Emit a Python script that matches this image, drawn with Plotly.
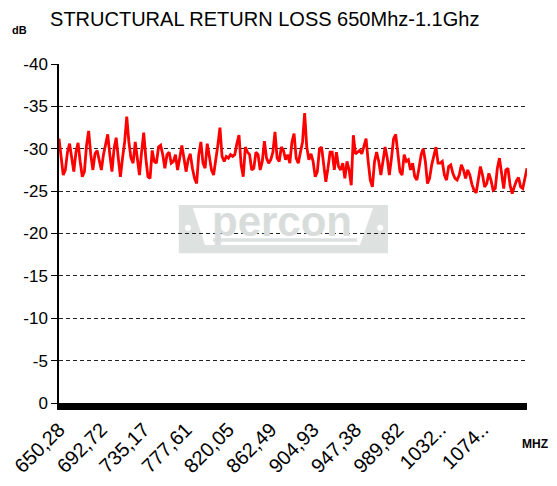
import numpy as np
import plotly.graph_objects as go

# sweep settings (uniform frequency sweep)
FREQ_START = 650.28
FREQ_STEP = 2.1222

# structural return loss in dB
return_loss = [
    -31.2, -29.3, -26.9, -27.5, -29.6, -30.6, -28.7, -27.3, -29.6, -30.7,
    -28.5, -26.7, -27.3, -30.4, -32.1, -29.3, -27.5, -29.4, -29.8, -28.7,
    -27.5, -29.3, -30.4, -31.7, -29.3, -27.3, -30.0, -31.3, -28.9, -26.7,
    -28.9, -30.8, -33.8, -30.8, -28.9, -28.3, -30.8, -28.7, -26.9, -29.6,
    -31.9, -28.9, -26.7, -26.5,
    -29.8, -28.5, -28.3, -30.2, -30.4, -29.3, -27.7, -29.3, -29.6, -28.3,
    -28.5, -29.3, -27.5, -28.9, -30.4, -28.9, -27.3, -28.7, -29.4, -27.7,
    -26.5, -25.9, -29.3, -30.8, -28.3, -27.7, -30.6, -29.1, -27.5, -26.9,
    -28.5, -30.4, -32.5, -29.1, -28.5, -29.1, -28.9, -29.3, -29.1, -29.3,
    -30.6, -31.6, -28.1, -26.7,
    -30.2, -29.6, -29.3, -27.5, -27.7, -29.6, -29.3, -27.5, -28.5, -30.9,
    -28.9, -28.3, -28.7, -29.6, -32.0, -28.9, -28.5, -30.2, -29.8, -28.7,
    -29.3, -28.3, -30.8, -31.8, -28.9, -28.3, -29.6, -30.8, -34.2, -30.2,
    -28.7, -29.4, -28.5, -26.7, -27.3, -30.0, -30.2, -27.9, -26.1, -27.7,
    -29.6, -29.6, -27.5,
    -29.6, -27.9, -27.5, -28.3, -26.5, -28.5, -27.5, -25.7, -31.6, -29.4,
    -29.6, -29.8, -29.4, -30.4, -31.2, -28.5, -26.3, -25.5, -28.5, -29.6,
    -28.5, -26.9, -28.9, -30.2, -28.9, -26.9, -28.9, -31.2, -31.7, -29.1,
    -27.3, -26.9, -29.3, -28.5, -28.7, -27.5, -28.3, -26.7, -26.3, -27.7,
    -29.3, -30.0, -28.5, -25.9,
    -26.5, -28.1, -29.1, -30.2, -28.3, -28.3, -28.5, -26.9, -26.3, -27.9,
    -28.1, -27.1, -26.5, -26.3, -26.9, -28.1, -27.5, -26.5, -27.5, -26.9,
    -25.8, -25.1, -24.8, -26.6, -27.9, -26.9, -25.5, -25.9, -27.1, -26.3,
    -25.1, -25.3, -27.7, -28.9, -27.1, -25.3, -27.5, -27.7, -25.7, -24.7,
    -25.5, -26.2, -26.6, -25.5, -25.3, -26.5, -27.7,
]

freqs = FREQ_START + FREQ_STEP * np.arange(len(return_loss))

tick_freqs = [650.28, 692.72, 735.17, 777.61, 820.05, 862.49, 904.93,
              947.38, 989.82, 1032.26, 1074.70]
tick_labels = ["650,28", "692,72", "735,17", "777,61", "820,05", "862,49",
               "904,93", "947,38", "989,82", "1032..", "1074.."]
db_ticks = [0, -5, -10, -15, -20, -25, -30, -35, -40]
db_labels = ["0", "-5", "-10", "-15", "-20", "-25", "-30", "-35", "-40"]

FONT = "Liberation Sans, Arial, sans-serif"
LOGO_GREY = "#dde1e0"

fig = go.Figure()
fig.add_trace(go.Scatter(x=freqs, y=return_loss, mode='lines',
                         line=dict(color='#ff0000', width=2.8), showlegend=False))

# faint "percon" watermark behind the grid
shapes = [
    dict(type='rect', xref='paper', yref='paper', x0=0.256, x1=0.703, y0=0.442, y1=0.584,
         fillcolor=LOGO_GREY, line=dict(width=0), layer='below'),
    dict(type='path', xref='paper', yref='paper',
         path='M 0.286 0.575 L 0.671 0.575 L 0.643 0.466 L 0.312 0.466 Z',
         fillcolor='white', line=dict(width=0), layer='below'),
    dict(type='rect', xref='paper', yref='paper', x0=0.329, x1=0.637, y0=0.476, y1=0.486,
         fillcolor=LOGO_GREY, line=dict(width=0), layer='below'),
    dict(type='circle', xref='paper', yref='paper', x0=0.269, x1=0.282, y0=0.508, y1=0.526,
         fillcolor='white', line=dict(width=0), layer='below'),
    dict(type='circle', xref='paper', yref='paper', x0=0.680, x1=0.693, y0=0.508, y1=0.526,
         fillcolor='white', line=dict(width=0), layer='below'),
]

annotations = [
    dict(text='percon', xref='paper', yref='paper', x=0.476, y=0.535, showarrow=False,
         font=dict(family=FONT, size=42, color='#d8dddc', weight='bold')),
    dict(text='dB', xref='paper', yref='paper', x=-0.105, y=1.10, showarrow=False,
         xanchor='left', yanchor='middle',
         font=dict(family=FONT, size=11, color='black', weight='bold')),
    dict(text='MHZ', xref='paper', yref='paper', x=0.985, y=-0.12, showarrow=False,
         xanchor='left', yanchor='middle',
         font=dict(family=FONT, size=12, color='black', weight='bold')),
]

# page body adds an 8px offset, so margins are pulled in by that much
fig.update_layout(
    width=557, height=486,
    margin=dict(l=51, r=38, t=56, b=91),
    paper_bgcolor='white', plot_bgcolor='white',
    title=dict(text='STRUCTURAL RETURN LOSS 650Mhz-1.1Ghz', x=0.0755, xanchor='left',
               y=0.977, yanchor='middle', font=dict(family=FONT, size=20, color='black')),
    font=dict(family=FONT, color='black'),
    shapes=shapes, annotations=annotations,
    xaxis=dict(range=[freqs[0], freqs[-1]], tickvals=tick_freqs, ticktext=tick_labels,
               tickangle=-45, tickfont=dict(size=20, color='black'), showgrid=False,
               zeroline=False, showline=True, linecolor='black', linewidth=7, ticks='',
               automargin=False),
    yaxis=dict(range=[0, -40], tickvals=db_ticks, ticktext=db_labels,
               tickfont=dict(size=17, color='black'),
               showgrid=True, gridcolor='#222222', gridwidth=1, griddash='4px,3px',
               zeroline=False, showline=True, linecolor='black', linewidth=1.5,
               ticks='outside', ticklen=6, tickcolor='black', automargin=False),
)

fig.write_html("out.html")
